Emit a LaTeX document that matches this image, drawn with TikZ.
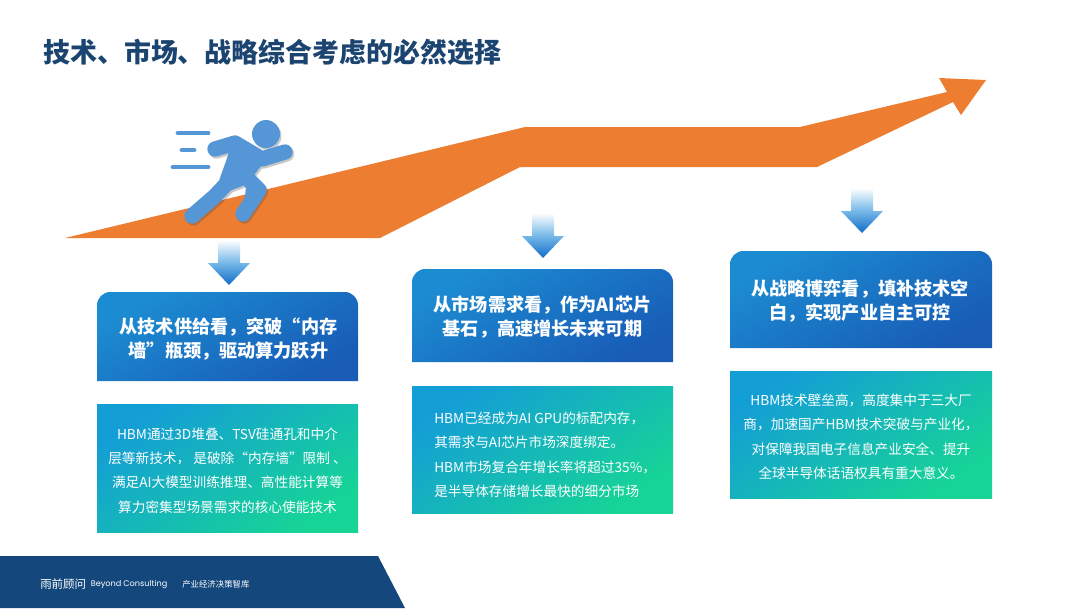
\documentclass[tikz,border=0pt]{standalone}
\usepackage{fontspec}
\setmainfont{Noto Sans CJK SC}
\newfontfamily\brandfont{Poppins}
\usetikzlibrary{calc}
\definecolor{orangeA}{RGB}{237,125,49}
\definecolor{titleC}{RGB}{27,68,112}
\definecolor{footC}{RGB}{20,72,125}
\definecolor{runC}{RGB}{84,150,214}
\definecolor{headA}{RGB}{28,140,210}
\definecolor{headB}{RGB}{24,92,182}
\definecolor{bodyA}{RGB}{20,158,214}
\definecolor{bodyB}{RGB}{22,212,150}
\definecolor{arrMid}{RGB}{120,185,232}
\definecolor{arrEnd}{RGB}{18,108,200}
\tikzset{
  x=0.75pt,y=-0.75pt,
  headfill/.style={top color=headA,bottom color=headB,shading angle=30},
  bodyfill/.style={top color=bodyA,bottom color=bodyB,shading angle=35},
  headtxt/.style={text=white,align=center,font=\fontsize{13.6}{18.3}\selectfont\bfseries,inner sep=0pt},
  bodytxt/.style={text=white,align=center,font=\fontsize{10.25}{18.35}\selectfont,inner sep=0pt},
  downarr/.style={top color=white,bottom color=arrEnd,middle color=arrMid},
  runlimb/.style={line width=11.5pt,line cap=round,line join=round},
  speedline/.style={line width=3.6pt,line cap=round,draw=runC},
}
\newcommand{\headbox}[4]{\shade[headfill] (#1,#3) [rounded corners=10pt] -- (#1,#2) -- (#4,#2) [sharp corners] -- (#4,#3) -- cycle;}
\newcommand{\dnarrow}[2]{\shade[downarr] (#1-11,#2) -- (#1+11,#2) -- (#1+11,#2+23) -- (#1+21,#2+23) -- (#1,#2+45) -- (#1-21,#2+23) -- (#1-11,#2+23) -- cycle;}
\newcommand{\runnerlimbs}{%
  (215,149) -- (235,143) -- (262,159) -- (285,152)
  (232,178) -- (215,196) -- (192,216)
  (247,178) -- (259,190) -- (243,214)
  (238,150) -- (256,160) -- (242,178) -- (226,184) -- cycle}
\begin{document}
\begin{tikzpicture}
\useasboundingbox (0,0) rectangle (1080,608);
\fill[white] (0,0) rectangle (1080,608);
\node[anchor=west,inner sep=0pt,text=titleC,font=\fontsize{20.2}{24}\selectfont\bfseries] (title) at (43,52) {技术、市场、战略综合考虑的必然选择};
% big arrow
\fill[orangeA] (65,238) -- (525,127) -- (800,127) -- (947,92) -- (939,78) -- (986,80) -- (961,115) -- (953,102) -- (817,167) -- (520,167) -- (380,238) -- cycle;
% runner shadow
\begin{scope}[shift={(1.5,2)},opacity=.3]
  \draw[runlimb,draw=black!70] \runnerlimbs;
  \fill[black!70] (266,134) circle[radius=14];
\end{scope}
\draw[runlimb,draw=runC,fill=runC] \runnerlimbs;
\fill[runC] (266,134) circle[radius=14];
\draw[speedline] (178,133) -- (208,133);
\draw[speedline] (182,150) -- (194,150);
\draw[speedline] (173,167) -- (208,167);
% down arrows
\dnarrow{229}{240}
\dnarrow{543}{213}
\dnarrow{862}{188}
% column 1
\headbox{97}{292}{381}{358}
\node[headtxt] (h1) at (228.5,339) {从技术供给看，突破“内存\\墙”瓶颈，驱动算力跃升};
\shade[bodyfill] (97,404) rectangle (358,532);
\node[bodytxt] (b1) at (227.5,470.5) {HBM通过3D堆叠、TSV硅通孔和中介\\层等新技术， 是破除“内存墙”限制 、\\满足AI大模型训练推理、高性能计算等\\算力密集型场景需求的核心使能技术};
% column 2
\headbox{412}{269}{362}{673}
\node[headtxt] (h2) at (542.5,317) {从市场需求看，作为AI芯片\\基石，高速增长未来可期};
\shade[bodyfill] (412,386) rectangle (673,513);
\node[bodytxt,anchor=west,align=left] (b2) at (434,455) {HBM已经成为AI GPU的标配内存，\\其需求与AI芯片市场深度绑定。\\HBM市场复合年增长率将超过35\%，\\是半导体存储增长最快的细分市场};
% column 3
\headbox{730}{251}{348}{992}
\node[headtxt] (h3) at (860,301) {从战略博弈看，填补技术空\\白，实现产业自主可控};
\shade[bodyfill] (730,371) rectangle (992,498);
\node[bodytxt] (b3) at (861,437) {HBM技术壁垒高，高度集中于三大厂\\商，加速国产HBM技术突破与产业化，\\对保障我国电子信息产业安全、提升\\全球半导体话语权具有重大意义。};
% footer
\fill[footC] (0,556) -- (378,556) -- (405,608) -- (0,608) -- cycle;
\node[anchor=west,inner sep=0pt,text=white,font=\fontsize{8.6}{10}\selectfont] (logo) at (40,584) {雨前顾问};
\node[anchor=west,inner sep=0pt,text=white,font=\fontsize{6.1}{8}\selectfont\brandfont] (brand) at (90.5,584) {Beyond Consulting};
\node[anchor=west,inner sep=0pt,text=white,font=\fontsize{6.3}{8}\selectfont] (slogan) at (182,584.5) {产业经济决策智库};
\end{tikzpicture}
\end{document}
